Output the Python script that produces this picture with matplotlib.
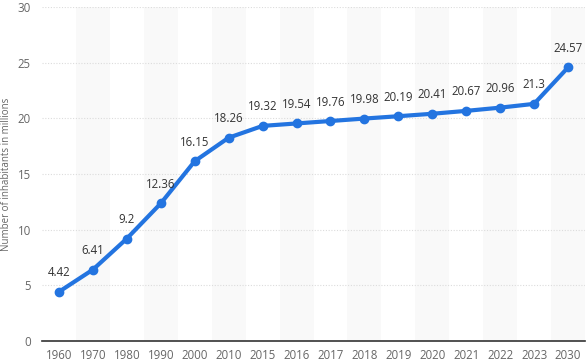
import matplotlib
matplotlib.use("Agg")
import matplotlib.pyplot as plt

years = ["1960", "1970", "1980", "1990", "2000", "2010", "2015", "2016", "2017",
         "2018", "2019", "2020", "2021", "2022", "2023", "2030"]
population = [4.42, 6.41, 9.2, 12.36, 16.15, 18.26, 19.32, 19.54, 19.76,
              19.98, 20.19, 20.41, 20.67, 20.96, 21.3, 24.57]
y_ticks = [0, 5, 10, 15, 20, 25, 30]
y_label = "Number of inhabitants in millions"

plt.rcParams['font.family'] = ['Open Sans', 'DejaVu Sans']

fig = plt.figure(figsize=(5.88, 3.62), dpi=100)
ax = fig.add_axes([42/588, 21/362, 543/588, 334/362])

x = list(range(len(years)))
for i in x:
    if i % 2 == 1:
        ax.axvspan(i - 0.5, i + 0.5, color="#f9f9f9", zorder=0, lw=0)

for t in y_ticks[1:]:
    ax.axhline(t, color="#dcdcdc", lw=0.8, ls=(0, (1, 1.5)), zorder=1)

ax.plot(x, population, color="#2374e0", lw=3, marker="o", ms=6, zorder=3,
        solid_capstyle="round")
for xi, v in zip(x, population):
    ax.annotate(f"{v:g}", (xi, v), xytext=(0, 9), textcoords="offset points",
                ha="center", va="bottom", fontsize=8.3, color="#333333")

ax.set_xlim(-0.5, len(years) - 0.5)
ax.set_ylim(0, 30)
ax.set_xticks(x)
ax.set_xticklabels(years)
ax.set_yticks(y_ticks)
ax.tick_params(axis="both", length=0, labelsize=8.3, colors="#666666")
ax.tick_params(axis="x", pad=6)
ax.tick_params(axis="y", pad=8)
for s in ["top", "right", "left"]:
    ax.spines[s].set_visible(False)
ax.spines["bottom"].set_color("#333333")
ax.spines["bottom"].set_linewidth(1.2)
ax.set_ylabel(y_label, fontsize=7, color="#666666")
ax.yaxis.set_label_coords((12 - 42) / 543, 0.5)

fig.savefig("out.png", dpi=100)
